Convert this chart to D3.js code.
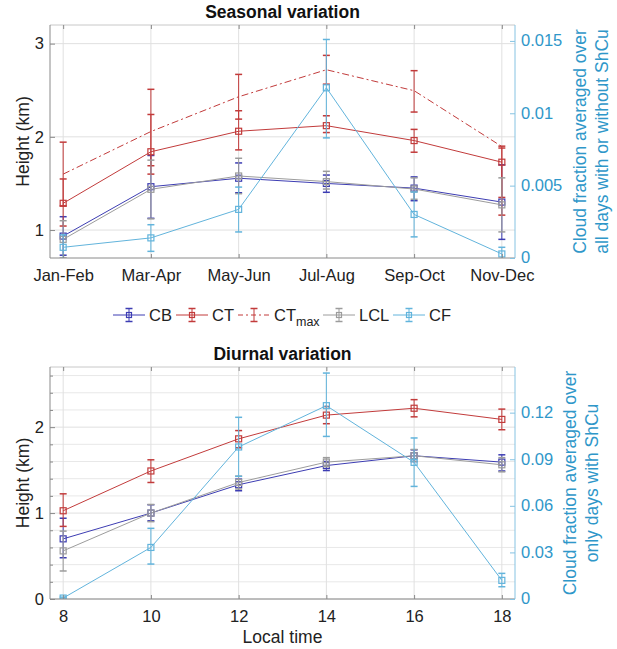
<!DOCTYPE html>
<html>
<head>
<meta charset="utf-8">
<script src="https://cdn.jsdelivr.net/npm/d3@7"></script>
<style>
  body { margin: 0; background: #fff; }
  text { font-family: "Liberation Sans", Arial, sans-serif; }
</style>
</head>
<body>
<div id="chart"></div>
<script>
// ---- seasonal panel data ----
const seasons = ["Jan-Feb", "Mar-Apr", "May-Jun", "Jul-Aug", "Sep-Oct", "Nov-Dec"];
const seasonX = [1, 2, 3, 4, 5, 6];

const cbS = [0.935, 1.465, 1.556, 1.50, 1.45, 1.30];
const cbSLo = [0.73, 1.126, 1.40, 1.405, 1.315, 0.90];
const cbSHi = [1.143, 1.80, 1.72, 1.59, 1.57, 1.70];
const ctS = [1.287, 1.84, 2.06, 2.12, 1.96, 1.728];
const ctSLo = [1.043, 1.69, 1.86, 2.046, 1.835, 1.35];
const ctSHi = [1.548, 2.24, 2.28, 2.226, 2.08, 1.88];
const ctmaxS = [1.60, 2.057, 2.43, 2.72, 2.495, 1.896];
const ctmaxSLo = [1.26, 1.60, 2.19, 2.565, 2.266, 1.16];
const ctmaxSHi = [1.943, 2.51, 2.67, 2.874, 2.71, 1.90];
const lclS = [0.90, 1.437, 1.58, 1.52, 1.44, 1.27];
const lclSLo = [0.70, 1.12, 1.39, 1.44, 1.33, 0.98];
const lclSHi = [1.10, 1.75, 1.77, 1.63, 1.56, 1.56];
const cfS = [0.00074, 0.00139, 0.00336, 0.01176, 0.00301, 0.00028];
const cfSLo = [-0.0001, 0.00046, 0.0018, 0.0083, 0.00146, -0.0002];
const cfSHi = [0.0016, 0.0023, 0.0049, 0.0151, 0.00456, 0.00074];

// ---- diurnal panel data ----
const hours = [8, 10, 12, 14, 16, 18];

const cbD = [0.70, 1.0, 1.33, 1.553, 1.667, 1.593];
const cbDLo = [0.48, 0.91, 1.26, 1.495, 1.60, 1.49];
const cbDHi = [0.94, 1.097, 1.395, 1.60, 1.736, 1.678];
const ctD = [1.027, 1.49, 1.864, 2.14, 2.22, 2.09];
const ctDLo = [0.845, 1.356, 1.76, 2.04, 2.12, 1.97];
const ctDHi = [1.224, 1.62, 1.96, 2.24, 2.32, 2.21];
const lclD = [0.56, 1.0, 1.356, 1.593, 1.667, 1.562];
const lclDLo = [0.326, 0.90, 1.28, 1.54, 1.60, 1.48];
const lclDHi = [0.79, 1.10, 1.43, 1.645, 1.74, 1.645];
const cfD = [0.0006, 0.0332, 0.0979, 0.1245, 0.088, 0.012];
const cfDLo = [0, 0.0225, 0.079, 0.1047, 0.0725, 0.0079];
const cfDHi = [0.0012, 0.0455, 0.117, 0.1455, 0.1037, 0.0165];

// ---- axis ticks ----
const seasonHeightTicks = [1, 2, 3];
const seasonCfTicks = [0, 0.005, 0.01, 0.015];
const diurnalHeightTicks = [0, 1, 2];
const diurnalCfTicks = [0, 0.03, 0.06, 0.09, 0.12];

const colors = {
    CB: "#3d3db3",
    CT: "#c23b3b",
    LCL: "#9c9c9c",
    CF: "#62b4dc",
    cfAxis: "#2f97c9",
    axis: "#8a8a8a",
    text: "#222"
};

const width = 617, height = 649;
const left = 50, right = 515;

const svg = d3.select("#chart").append("svg")
    .attr("width", width)
    .attr("height", height);

let clipId = 0;

function drawPanel(opt) {
    const x = d3.scaleLinear().domain(opt.xDomain).range([left, right]);
    const y = d3.scaleLinear().domain(opt.yDomain).range([opt.bottom, opt.top]);
    const y2 = d3.scaleLinear().domain(opt.y2Domain).range([opt.bottom, opt.top]);

    const g = svg.append("g");

    // grid
    if (opt.yMinor) {
        g.selectAll(".minor").data(opt.yMinor).enter().append("line")
            .attr("x1", left).attr("x2", right)
            .attr("y1", d => y(d)).attr("y2", d => y(d))
            .attr("stroke", "#e8e8e8");
    }
    g.selectAll(".hgrid").data(opt.yTicks).enter().append("line")
        .attr("x1", left).attr("x2", right)
        .attr("y1", d => y(d)).attr("y2", d => y(d))
        .attr("stroke", "#e0e0e0");
    g.selectAll(".vgrid").data(opt.xVals).enter().append("line")
        .attr("x1", d => x(d)).attr("x2", d => x(d))
        .attr("y1", opt.top).attr("y2", opt.bottom)
        .attr("stroke", "#e0e0e0");

    // clip for series
    clipId++;
    svg.append("clipPath").attr("id", "clip" + clipId)
        .append("rect")
        .attr("x", left).attr("y", opt.top)
        .attr("width", right - left).attr("height", opt.bottom - opt.top);

    const plot = g.append("g").attr("clip-path", `url(#clip${clipId})`);

    opt.series.forEach(s => {
        const ys = s.axis === "right" ? y2 : y;
        const pts = opt.xVals.map((xv, i) => ({ x: xv, v: s.vals[i], lo: s.lo[i], hi: s.hi[i] }));
        const sg = plot.append("g")
            .attr("stroke", s.color)
            .attr("fill", "none")
            .attr("stroke-width", 1);

        sg.append("path")
            .datum(pts)
            .attr("d", d3.line().x(d => x(d.x)).y(d => ys(d.v)))
            .attr("stroke-dasharray", s.dash || null);

        // error bars
        sg.selectAll(".err").data(pts).enter().append("line")
            .attr("x1", d => x(d.x)).attr("x2", d => x(d.x))
            .attr("y1", d => ys(d.lo)).attr("y2", d => ys(d.hi));
        sg.selectAll(".capLo").data(pts).enter().append("line")
            .attr("x1", d => x(d.x) - 3.5).attr("x2", d => x(d.x) + 3.5)
            .attr("y1", d => ys(d.lo)).attr("y2", d => ys(d.lo))
            .attr("stroke-width", 1.5);
        sg.selectAll(".capHi").data(pts).enter().append("line")
            .attr("x1", d => x(d.x) - 3.5).attr("x2", d => x(d.x) + 3.5)
            .attr("y1", d => ys(d.hi)).attr("y2", d => ys(d.hi))
            .attr("stroke-width", 1.5);

        if (s.marker) {
            sg.selectAll(".mk").data(pts).enter().append("rect")
                .attr("x", d => x(d.x) - 3).attr("y", d => ys(d.v) - 3)
                .attr("width", 6).attr("height", 6)
                .attr("stroke-width", 1.2);
        }
    });

    // box
    g.append("line").attr("x1", left).attr("x2", right).attr("y1", opt.top).attr("y2", opt.top)
        .attr("stroke", "#c8c8c8");
    g.append("line").attr("x1", left).attr("x2", right).attr("y1", opt.bottom).attr("y2", opt.bottom)
        .attr("stroke", colors.axis);
    g.append("line").attr("x1", left).attr("x2", left).attr("y1", opt.top).attr("y2", opt.bottom)
        .attr("stroke", colors.axis);
    g.append("line").attr("x1", right).attr("x2", right).attr("y1", opt.top).attr("y2", opt.bottom)
        .attr("stroke", "#86c3e2");

    // axes
    const xAxis = g.append("g")
        .attr("transform", `translate(0,${opt.bottom})`)
        .call(d3.axisBottom(x).tickValues(opt.xVals).tickFormat(opt.xFormat)
            .tickSizeInner(-4).tickSizeOuter(0).tickPadding(11));
    g.append("g")
        .attr("transform", `translate(0,${opt.top})`)
        .call(d3.axisTop(x).tickValues(opt.xVals).tickFormat("")
            .tickSizeInner(-4).tickSizeOuter(0));

    const yAxis = g.append("g")
        .attr("transform", `translate(${left},0)`)
        .call(d3.axisLeft(y).tickValues(opt.yTicks).tickFormat(d3.format("d"))
            .tickSizeInner(-5).tickSizeOuter(0).tickPadding(6));
    if (opt.yMinor) {
        g.append("g")
            .attr("transform", `translate(${left},0)`)
            .call(d3.axisLeft(y).tickValues(opt.yMinor).tickFormat("")
                .tickSizeInner(-3).tickSizeOuter(0));
    }

    const y2Axis = g.append("g")
        .attr("transform", `translate(${right},0)`)
        .call(d3.axisRight(y2).tickValues(opt.y2Ticks).tickFormat(d => d === 0 ? "0" : String(+d.toFixed(4)))
            .tickSizeInner(-5).tickSizeOuter(0).tickPadding(6));

    g.selectAll(".domain").remove();
    g.selectAll(".tick line").attr("stroke", colors.axis);
    y2Axis.selectAll(".tick line").attr("stroke", "#86c3e2");
    [xAxis, yAxis].forEach(a => a.selectAll("text")
        .style("font-size", "16.5px").attr("fill", colors.text));
    y2Axis.selectAll("text").style("font-size", "16.5px").attr("fill", colors.cfAxis)
        .attr("dy", "0.3em");

    // title
    g.append("text")
        .attr("x", (left + right) / 2).attr("y", opt.top - 7)
        .attr("text-anchor", "middle")
        .style("font-size", "17.5px").style("font-weight", "bold")
        .attr("fill", "#111")
        .text(opt.title);

    // left label
    const midY = (opt.top + opt.bottom) / 2;
    g.append("text")
        .attr("transform", `translate(23,${midY}) rotate(-90)`)
        .attr("text-anchor", "middle")
        .attr("dominant-baseline", "central")
        .style("font-size", "17.5px").attr("fill", colors.text)
        .text("Height (km)");

    // right label (two lines)
    opt.rightLabel.forEach((line, i) => {
        g.append("text")
            .attr("transform", `translate(${opt.rightLabelX + i * 22},${midY}) rotate(-90)`)
            .attr("text-anchor", "middle")
            .attr("dominant-baseline", "central")
            .style("font-size", "17.5px").attr("fill", colors.cfAxis)
            .text(line);
    });

    if (opt.xLabel) {
        g.append("text")
            .attr("x", (left + right) / 2).attr("y", opt.bottom + 44)
            .attr("text-anchor", "middle")
            .style("font-size", "17.5px").attr("fill", colors.text)
            .text(opt.xLabel);
    }
}

drawPanel({
    top: 25, bottom: 258,
    xDomain: [0.85, 6.15], xVals: seasonX, xFormat: (d, i) => seasons[i],
    yDomain: [0.7, 3.2], yTicks: seasonHeightTicks,
    y2Domain: [0, 0.0161], y2Ticks: seasonCfTicks,
    title: "Seasonal variation",
    rightLabel: ["Cloud fraction averaged over", "all days with or without ShCu"],
    rightLabelX: 580,
    series: [
        { vals: cbS, lo: cbSLo, hi: cbSHi, color: colors.CB, marker: true },
        { vals: ctS, lo: ctSLo, hi: ctSHi, color: colors.CT, marker: true },
        { vals: ctmaxS, lo: ctmaxSLo, hi: ctmaxSHi, color: colors.CT, dash: "7,3,2,3" },
        { vals: lclS, lo: lclSLo, hi: lclSHi, color: colors.LCL, marker: true },
        { vals: cfS, lo: cfSLo, hi: cfSHi, color: colors.CF, marker: true, axis: "right" }
    ]
});

drawPanel({
    top: 367, bottom: 599,
    xDomain: [7.7, 18.3], xVals: hours, xFormat: d3.format("d"),
    yDomain: [0, 2.7], yTicks: diurnalHeightTicks,
    yMinor: d3.range(0.2, 2.7, 0.2).filter(v => Math.abs(v - Math.round(v)) > 0.01),
    y2Domain: [0, 0.1494], y2Ticks: diurnalCfTicks,
    title: "Diurnal variation",
    rightLabel: ["Cloud fraction averaged over", "only days with ShCu"],
    rightLabelX: 570,
    xLabel: "Local time",
    series: [
        { vals: cbD, lo: cbDLo, hi: cbDHi, color: colors.CB, marker: true },
        { vals: ctD, lo: ctDLo, hi: ctDHi, color: colors.CT, marker: true },
        { vals: lclD, lo: lclDLo, hi: lclDHi, color: colors.LCL, marker: true },
        { vals: cfD, lo: cfDLo, hi: cfDHi, color: colors.CF, marker: true, axis: "right" }
    ]
});

// ---- legend ----
const legendItems = [
    { name: "CB", color: colors.CB, marker: true, x: 113 },
    { name: "CT", color: colors.CT, marker: true, x: 176 },
    { name: "CT", sub: "max", color: colors.CT, dash: "5,3,2,3", x: 238 },
    { name: "LCL", color: colors.LCL, marker: true, x: 323 },
    { name: "CF", color: colors.CF, marker: true, x: 393 }
];
const legY = 315;
const leg = svg.append("g");
legendItems.forEach(it => {
    const lg = leg.append("g").attr("stroke", it.color).attr("fill", "none");
    const cx = it.x + 16;
    lg.append("line").attr("x1", it.x).attr("x2", it.x + 32).attr("y1", legY).attr("y2", legY)
        .attr("stroke-dasharray", it.dash || null);
    lg.append("line").attr("x1", cx).attr("x2", cx).attr("y1", legY - 6.5).attr("y2", legY + 6.5);
    [legY - 6.5, legY + 6.5].forEach(cy => lg.append("line")
        .attr("x1", cx - 3.5).attr("x2", cx + 3.5).attr("y1", cy).attr("y2", cy).attr("stroke-width", 1.5));
    if (it.marker) {
        lg.append("rect").attr("x", cx - 2.5).attr("y", legY - 2.5).attr("width", 5).attr("height", 5)
            .attr("stroke-width", 1.2);
    }
    const t = leg.append("text")
        .attr("x", it.x + 36).attr("y", legY + 6)
        .style("font-size", "16.5px").attr("fill", colors.text)
        .text(it.name);
    if (it.sub) {
        t.append("tspan").attr("dy", 5).style("font-size", "12.5px").text(it.sub);
    }
});
</script>
</body>
</html>
